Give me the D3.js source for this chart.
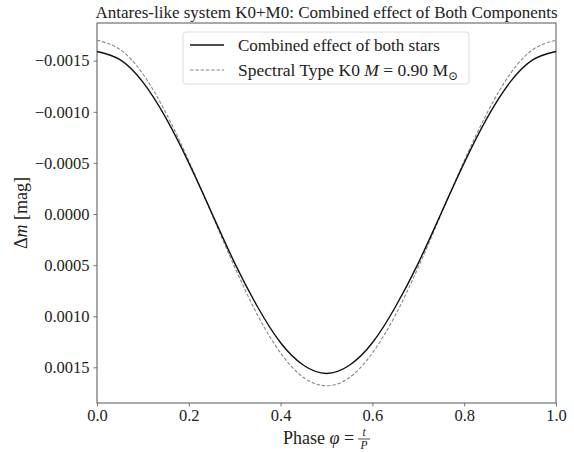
<!DOCTYPE html>
<html>
<head>
<meta charset="utf-8">
<script src="https://cdn.jsdelivr.net/npm/d3@7"></script>
<style>
  body { margin: 0; background: #fff; }
  svg text { font-family: "Liberation Serif", "DejaVu Serif", serif; fill: #222; }
</style>
</head>
<body>
<div id="chart"></div>
<script>
// phase samples
var phase = [0, 0.05, 0.10, 0.15, 0.20, 0.25, 0.30, 0.35, 0.40, 0.45, 0.50,
             0.55, 0.60, 0.65, 0.70, 0.75, 0.80, 0.85, 0.90, 0.95, 1.0];
// combined effect of both stars (mag)
var combined = [-0.00159, -0.00151, -0.00129, -0.00094, -0.00050, -0.00001, 0.00048, 0.00091, 0.00126, 0.00148, 0.00156,
                0.00148, 0.00126, 0.00091, 0.00048, -0.00001, -0.00050, -0.00094, -0.00129, -0.00151, -0.00159];
// spectral type K0 alone (mag)
var k0only = [-0.00170, -0.00161, -0.00137, -0.00099, -0.00052, 0.00000, 0.00052, 0.00099, 0.00136, 0.00160, 0.00168,
              0.00160, 0.00136, 0.00099, 0.00052, 0.00000, -0.00052, -0.00099, -0.00137, -0.00161, -0.00170];
var xTicks = [0, 0.2, 0.4, 0.6, 0.8, 1.0];
var yTicks = [-0.0015, -0.0010, -0.0005, 0, 0.0005, 0.0010, 0.0015];

var width = 574, height = 452;
var margin = { top: 23, right: 18, bottom: 49, left: 97 };
var w = width - margin.left - margin.right;
var h = height - margin.top - margin.bottom;

var svg = d3.select('#chart').append('svg')
    .attr('width', width)
    .attr('height', height);

var g = svg.append('g')
    .attr('transform', 'translate(' + margin.left + ',' + margin.top + ')');

// y domain with 5% padding like matplotlib, inverted (magnitudes)
var all = combined.concat(k0only);
var lo = d3.min(all), hi = d3.max(all), pad = (hi - lo) * 0.05;

var x = d3.scaleLinear().domain([0, 1]).range([0, w]);
var y = d3.scaleLinear().domain([lo - pad, hi + pad]).range([0, h]);

var fmtY = function (d) { return d3.format('.4f')(d).replace('-', '\u2212'); };

var xAxis = d3.axisBottom(x).tickValues(xTicks).tickSize(3.5).tickPadding(3)
    .tickFormat(d3.format('.1f'));
var yAxis = d3.axisLeft(y).tickValues(yTicks).tickSize(3.5).tickPadding(4)
    .tickFormat(fmtY);

var gx = g.append('g').attr('transform', 'translate(0,' + h + ')').call(xAxis);
var gy = g.append('g').call(yAxis);
[gx, gy].forEach(function (a) {
    a.select('.domain').remove();
    a.selectAll('line').attr('stroke', '#555').attr('stroke-width', 0.8);
    a.selectAll('text').style('font-family', '"Liberation Serif", serif')
        .style('font-size', '16.5px').attr('fill', '#222');
});

// frame
g.append('rect')
    .attr('width', w).attr('height', h)
    .attr('fill', 'none').attr('stroke', '#555').attr('stroke-width', 1);

var line = d3.line().curve(d3.curveNatural)
    .x(function (d, i) { return x(phase[i]); })
    .y(function (d) { return y(d); });

g.append('path').datum(k0only)
    .attr('d', line)
    .attr('fill', 'none')
    .attr('stroke', '#888')
    .attr('stroke-width', 1.1)
    .attr('stroke-dasharray', '3.5,1.8');

g.append('path').datum(combined)
    .attr('d', line)
    .attr('fill', 'none')
    .attr('stroke', '#111')
    .attr('stroke-width', 1.4);

// legend
var lg = svg.append('g').attr('transform', 'translate(183,32)');
lg.append('rect')
    .attr('width', 286).attr('height', 52).attr('rx', 3)
    .attr('fill', '#fff').attr('fill-opacity', 0.8)
    .attr('stroke', '#ddd').attr('stroke-width', 1);
lg.append('line').attr('x1', 7).attr('x2', 41).attr('y1', 13).attr('y2', 13)
    .attr('stroke', '#111').attr('stroke-width', 1.4);
lg.append('line').attr('x1', 7).attr('x2', 41).attr('y1', 38).attr('y2', 38)
    .attr('stroke', '#888').attr('stroke-width', 1.1).attr('stroke-dasharray', '3.5,1.8');
lg.append('text').attr('x', 55).attr('y', 18.5).style('font-size', '17px')
    .text('Combined effect of both stars');
var t2 = lg.append('text').attr('x', 55).attr('y', 43.5).style('font-size', '17.5px');
t2.append('tspan').text('Spectral Type K0 ');
t2.append('tspan').style('font-style', 'italic').text('M');
t2.append('tspan').text(' = 0.90 M');
t2.append('tspan').attr('dy', 4).style('font-size', '12px').text('\u2299');

// title
svg.append('text')
    .attr('x', margin.left + w / 2).attr('y', 18)
    .attr('text-anchor', 'middle')
    .style('font-size', '17px')
    .text('Antares-like system K0+M0: Combined effect of Both Components');

// y label
var yl = svg.append('text')
    .attr('transform', 'translate(27,' + (margin.top + h / 2) + ') rotate(-90)')
    .attr('text-anchor', 'middle')
    .style('font-size', '18px');
yl.append('tspan').text('\u0394');
yl.append('tspan').style('font-style', 'italic').text('m');
yl.append('tspan').text(' [mag]');

// x label: "Phase φ =" followed by a small t/P fraction, all in one text
var xt = svg.append('text').attr('y', 444).style('font-size', '18px');
xt.append('tspan').text('Phase ');
xt.append('tspan').style('font-style', 'italic').text('\u03C6');
xt.append('tspan').text(' =');
var tw = xt.node().getComputedTextLength();
var fracW = 12, gap = 4;
var x0 = margin.left + w / 2 - (tw + gap + fracW) / 2;
xt.attr('x', x0);
var fx = x0 + tw + gap + fracW / 2;
xt.append('tspan').attr('x', fx).attr('y', 436).attr('text-anchor', 'middle')
    .style('font-size', '11.5px').style('font-style', 'italic').text('t');
xt.append('tspan').attr('x', fx).attr('y', 449).attr('text-anchor', 'middle')
    .style('font-size', '11.5px').style('font-style', 'italic').text('P');
svg.append('line').attr('x1', fx - 6).attr('x2', fx + 6).attr('y1', 439).attr('y2', 439)
    .attr('stroke', '#222').attr('stroke-width', 0.8);
</script>
</body>
</html>
